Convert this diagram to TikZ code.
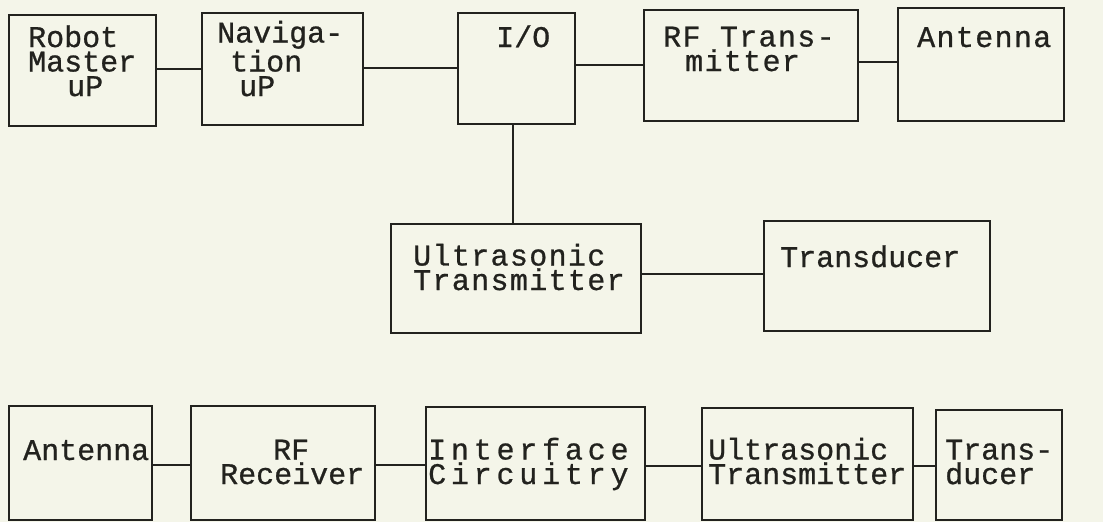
\documentclass[tikz,border=0pt]{standalone}
\usepackage{fontspec}
\newfontfamily\tw[FakeBold=0.8]{Liberation Mono}
\newfontfamily\twsemi[FakeBold=0.8,LetterSpace=4.5]{Liberation Mono}
\newfontfamily\twwide[FakeBold=0.8,LetterSpace=16]{Liberation Mono}
\definecolor{paper}{RGB}{244,245,233}
\definecolor{ink}{RGB}{34,34,30}
\begin{document}
\begin{tikzpicture}[x=1pt,y=-1pt,
  box/.style={draw=ink, line width=1.6pt, inner sep=0pt},
  lbl/.style={anchor=base west, inner sep=0pt, align=left, text=ink,
    font=\tw\fontsize{30}{24.5}\selectfont},
  lblsemi/.style={lbl, font=\twsemi\fontsize{30}{24.5}\selectfont},
  lblwide/.style={lbl, font=\twwide\fontsize{30}{24.5}\selectfont},
  wire/.style={draw=ink, line width=1.6pt}]
\fill[paper] (0,0) rectangle (1103,522);
\useasboundingbox (0,0) rectangle (1103,522);
% boxes
\node[box, minimum width=147pt, minimum height=111pt, anchor=north west] (rm) at (8,14) {};
\node[box, minimum width=161pt, minimum height=112pt, anchor=north west] (nav) at (201,12) {};
\node[box, minimum width=117pt, minimum height=111pt, anchor=north west] (io) at (457,12) {};
\node[box, minimum width=214pt, minimum height=111pt, anchor=north west] (rft) at (643,9) {};
\node[box, minimum width=166pt, minimum height=113pt, anchor=north west] (ant1) at (897,7) {};
\node[box, minimum width=250pt, minimum height=109pt, anchor=north west] (ust) at (390,223) {};
\node[box, minimum width=226pt, minimum height=110pt, anchor=north west] (tr1) at (763,220) {};
\node[box, minimum width=143pt, minimum height=114pt, anchor=north west] (ant2) at (8,405) {};
\node[box, minimum width=184pt, minimum height=114pt, anchor=north west] (rfr) at (190,405) {};
\node[box, minimum width=219pt, minimum height=113pt, anchor=north west] (ic) at (425,406) {};
\node[box, minimum width=211pt, minimum height=112pt, anchor=north west] (ust2) at (701,407) {};
\node[box, minimum width=126pt, minimum height=110pt, anchor=north west] (tr2) at (935,409) {};
% labels (anchor = baseline of last line)
\node[lbl] (trm) at (28,96) {Robot\\Master\\\hspace*{39pt}uP};
\node[lbl] (tnav) at (217,96) {Naviga-\\\hspace*{13pt}tion\\\hspace*{22pt}uP};
\node[lbl] (tio) at (496,47) {I/O};
\node[lblsemi] (trft) at (663,71) {RF Trans-\\\hspace*{22pt}mitter};
\node[lblsemi] (tant1) at (917,47) {Antenna};
\node[lblsemi] (tust) at (413,290) {Ultrasonic\\Transmitter};
\node[lbl] (ttr1) at (780,267) {Transducer};
\node[lbl] (tant2) at (23,460) {Antenna};
\node[lbl] (trfr) at (220,484) {\hspace*{53pt}RF\\Receiver};
\node[lblwide] (tic) at (428,484) {Interface\\Circuitry};
\node[lbl] (tust2) at (708,484) {Ultrasonic\\Transmitter};
\node[lbl] (ttr2) at (945,484) {Trans-\\ducer};
% connectors
\draw[wire] (rm.east |- 0,69) -- (nav.west |- 0,69);
\draw[wire] (nav.east |- 0,68) -- (io.west |- 0,68);
\draw[wire] (io.east |- 0,65) -- (rft.west |- 0,65);
\draw[wire] (rft.east |- 0,62) -- (ant1.west |- 0,62);
\draw[wire] (io.south -| 513,0) -- (ust.north -| 513,0);
\draw[wire] (ust.east |- 0,274) -- (tr1.west |- 0,274);
\draw[wire] (ant2.east |- 0,465) -- (rfr.west |- 0,465);
\draw[wire] (rfr.east |- 0,465) -- (ic.west |- 0,465);
\draw[wire] (ic.east |- 0,466) -- (ust2.west |- 0,466);
\draw[wire] (ust2.east |- 0,466) -- (tr2.west |- 0,466);
\end{tikzpicture}
\end{document}
